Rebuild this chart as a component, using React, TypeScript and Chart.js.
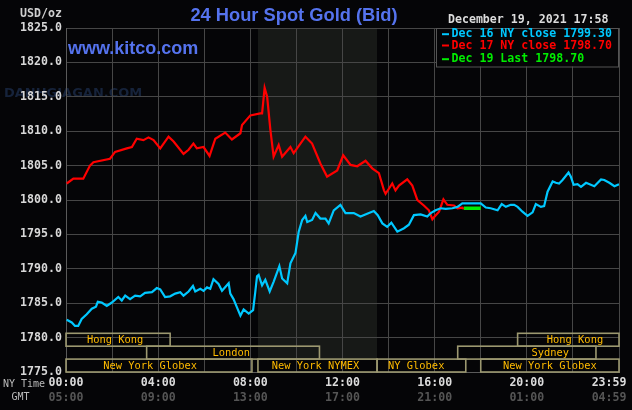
import React, { useEffect, useRef } from "react";
import { Chart, registerables } from "chart.js";

Chart.register(...registerables);

// ---- data (hours after 00:00 NY time, price USD/oz) ----
const redHours = [0.03, 0.32, 0.75, 1.04, 1.19, 1.91, 2.13, 2.64, 2.86, 3.07, 3.36, 3.58, 3.8, 4.09, 4.45, 4.67, 5.1, 5.32, 5.53, 5.68, 5.97, 6.23, 6.48, 6.91, 7.2, 7.57, 7.64, 8.0, 8.43, 8.51, 8.62, 8.73, 8.87, 9.01, 9.23, 9.38, 9.74, 9.88, 10.39, 10.68, 11.04, 11.33, 11.77, 12.03, 12.35, 12.64, 13.0, 13.29, 13.58, 13.8, 13.87, 14.16, 14.3, 14.45, 14.81, 15.03, 15.25, 15.53, 15.75, 15.9, 15.97, 16.19, 16.38, 16.55, 16.84, 16.99, 17.2, 17.26];
const redPrices = [1802.4, 1803.1, 1803.1, 1805.0, 1805.5, 1806.0, 1807.0, 1807.5, 1807.7, 1808.9, 1808.7, 1809.1, 1808.7, 1807.5, 1809.2, 1808.5, 1806.7, 1807.3, 1808.2, 1807.5, 1807.7, 1806.4, 1808.9, 1809.8, 1808.8, 1809.7, 1810.9, 1812.3, 1812.6, 1812.6, 1816.3, 1815.0, 1810.2, 1806.3, 1808.0, 1806.3, 1807.7, 1806.8, 1809.2, 1808.2, 1805.3, 1803.4, 1804.3, 1806.5, 1805.1, 1804.9, 1805.7, 1804.6, 1803.9, 1801.4, 1800.9, 1802.4, 1801.4, 1802.1, 1803.0, 1802.1, 1800.0, 1799.2, 1798.5, 1797.2, 1797.5, 1798.3, 1800.1, 1799.3, 1799.2, 1798.8, 1798.9, 1798.7];

const cyanHours = [0.03, 0.25, 0.39, 0.53, 0.68, 0.9, 1.12, 1.3, 1.38, 1.55, 1.77, 1.99, 2.27, 2.42, 2.57, 2.78, 3.0, 3.22, 3.43, 3.73, 3.94, 4.09, 4.3, 4.52, 4.74, 4.96, 5.1, 5.32, 5.51, 5.61, 5.83, 5.97, 6.12, 6.26, 6.4, 6.62, 6.77, 7.06, 7.13, 7.27, 7.42, 7.57, 7.71, 7.93, 8.12, 8.22, 8.29, 8.36, 8.51, 8.65, 8.84, 9.01, 9.26, 9.38, 9.6, 9.74, 9.96, 10.1, 10.25, 10.39, 10.47, 10.68, 10.83, 11.04, 11.26, 11.4, 11.62, 11.91, 12.13, 12.49, 12.78, 13.07, 13.36, 13.53, 13.73, 13.94, 14.12, 14.38, 14.67, 14.88, 15.1, 15.39, 15.68, 15.83, 16.04, 16.26, 16.48, 16.77, 16.99, 17.2, 18.0, 18.22, 18.43, 18.73, 18.91, 19.09, 19.3, 19.45, 19.6, 19.81, 20.03, 20.25, 20.39, 20.61, 20.75, 20.9, 21.12, 21.26, 21.4, 21.55, 21.81, 21.91, 22.03, 22.2, 22.35, 22.57, 22.93, 23.22, 23.36, 23.58, 23.8, 24.0];
const cyanPrices = [1782.6, 1782.2, 1781.7, 1781.7, 1782.7, 1783.4, 1784.2, 1784.5, 1785.2, 1785.1, 1784.6, 1785.1, 1785.9, 1785.4, 1786.1, 1785.6, 1786.1, 1786.0, 1786.5, 1786.6, 1787.2, 1787.0, 1785.9, 1786.0, 1786.4, 1786.6, 1786.1, 1786.7, 1787.5, 1786.7, 1787.1, 1786.8, 1787.3, 1787.1, 1788.5, 1787.8, 1786.8, 1787.9, 1786.4, 1785.6, 1784.4, 1783.2, 1784.1, 1783.5, 1784.0, 1786.8, 1788.9, 1789.1, 1787.6, 1788.4, 1786.7, 1788.1, 1790.4, 1788.6, 1787.9, 1790.8, 1792.3, 1795.4, 1797.1, 1797.7, 1796.8, 1797.1, 1798.1, 1797.3, 1797.3, 1796.6, 1798.5, 1799.3, 1798.1, 1798.1, 1797.6, 1798.0, 1798.4, 1797.8, 1796.6, 1796.1, 1796.7, 1795.4, 1795.9, 1796.4, 1797.8, 1797.9, 1797.6, 1798.1, 1798.5, 1798.8, 1798.7, 1798.8, 1799.0, 1799.5, 1799.5, 1798.9, 1798.8, 1798.5, 1799.4, 1799.0, 1799.3, 1799.3, 1799.0, 1798.3, 1797.7, 1798.2, 1799.4, 1799.0, 1799.1, 1801.2, 1802.7, 1802.5, 1802.4, 1802.9, 1804.0, 1803.4, 1802.2, 1802.3, 1801.9, 1802.5, 1802.0, 1803.0, 1802.9, 1802.5, 1802.0, 1802.3];

const greenHours = [17.26, 18.0];
const greenPrices = [1798.8, 1798.8];

const legendLabels = ["Dec 16 NY close 1799.30", "Dec 17 NY close 1798.70", "Dec 19 Last 1798.70"];
const seriesColors = ["#00c8ff", "#ff0000", "#00ee00"];

const gridHours = [0, 2, 4, 6, 8, 10, 12, 14, 16, 18, 20, 22, 24];
const xLabelHours = [0, 4, 8, 12, 16, 20, 23.57];
const nyTickLabels = ["00:00", "04:00", "08:00", "12:00", "16:00", "20:00", "23:59"];
const gmtTickLabels = ["05:00", "09:00", "13:00", "17:00", "21:00", "01:00", "04:59"];

const sessionNames = ["Hong Kong", "Hong Kong", "London", "Sydney", "New York Globex", "New York NYMEX", "NY Globex", "New York Globex"];
const sessionRows = [0, 0, 1, 1, 2, 2, 2, 2];
const sessionStart = [0, 19.6, 3.5, 17.0, 0, 8.33, 13.5, 18.0];
const sessionEnd = [4.52, 24, 11.0, 23.0, 8.07, 13.5, 17.35, 24];
const sessionLabelAt = [2.13, 22.09, 7.17, 21.02, 3.65, 10.83, 15.2, 21.0];

const comexStart = 8.33;
const comexEnd = 13.5;

const titleText = "24 Hour Spot Gold (Bid)";
const dateText = "December 19, 2021 17:58";

const MONO = '"DejaVu Sans Mono", monospace';
const GRID = "#464646";

const toPoints = (xs: number[], ys: number[]) => xs.map((x, i) => ({ x, y: ys[i] }));
const allTickHours = Array.from(new Set([...gridHours, ...xLabelHours])).sort((a, b) => a - b);

const decorPlugin = {
  id: "kitcoDecor",
  beforeDraw(chart: any) {
    const { ctx, chartArea, scales } = chart;
    const x = scales.x;
    ctx.save();
    ctx.fillStyle = "#050507";
    ctx.fillRect(0, 0, chart.width, chart.height);
    const rowH = 12.9;
    ctx.fillStyle = "#171917";
    const x0 = x.getPixelForValue(comexStart);
    const x1 = x.getPixelForValue(comexEnd);
    ctx.fillRect(x0, chartArea.top, x1 - x0, chartArea.bottom - rowH - chartArea.top);
    // watermark
    ctx.fillStyle = "#16233b";
    ctx.font = 'bold 13px "DejaVu Sans"';
    ctx.textBaseline = "middle";
    ctx.textAlign = "left";
    ctx.fillText("DANHGIAGAN.COM", 4, 94);
    ctx.restore();
  },
  afterDatasetsDraw(chart: any) {
    const { ctx, chartArea, scales } = chart;
    const x = scales.x;
    const bottom = chartArea.bottom;
    const rowH = 12.9;
    ctx.save();
    ctx.lineWidth = 1.6;
    ctx.strokeStyle = "#9c9870";
    for (let i = 0; i < sessionNames.length; i++) {
      const top = bottom - (3 - sessionRows[i]) * rowH;
      const a = x.getPixelForValue(sessionStart[i]);
      const b = x.getPixelForValue(sessionEnd[i]);
      ctx.strokeRect(a, top, b - a, rowH);
    }
    ctx.fillStyle = "#ffbb00";
    ctx.font = `10.4px ${MONO}`;
    ctx.textAlign = "center";
    ctx.textBaseline = "middle";
    for (let i = 0; i < sessionNames.length; i++) {
      const top = bottom - (3 - sessionRows[i]) * rowH;
      ctx.fillText(sessionNames[i], x.getPixelForValue(sessionLabelAt[i]), top + rowH / 2 + 0.5);
    }
    ctx.restore();
  },
  afterDraw(chart: any) {
    const { ctx, chartArea, scales } = chart;
    const x = scales.x;
    ctx.save();
    ctx.textBaseline = "middle";
    // GMT labels
    ctx.font = `bold 11.6px ${MONO}`;
    ctx.fillStyle = "#555555";
    ctx.textAlign = "center";
    xLabelHours.forEach((h, i) => {
      ctx.fillText(gmtTickLabels[i], x.getPixelForValue(h), 397.5);
    });
    // NY Time / GMT
    ctx.font = `10px ${MONO}`;
    ctx.fillStyle = "#bbbbbb";
    ctx.textAlign = "left";
    ctx.fillText("NY Time", 3, 384.5);
    ctx.textAlign = "center";
    ctx.fillText("GMT", 20.5, 397.5);
    // USD/oz
    ctx.font = `bold 11.6px ${MONO}`;
    ctx.fillStyle = "#cfcfcf";
    ctx.textAlign = "right";
    ctx.fillText("USD/oz", 62, 13.5);
    // title
    ctx.font = 'bold 18.3px "Liberation Sans", Arial, sans-serif';
    ctx.fillStyle = "#5573ee";
    ctx.textAlign = "center";
    ctx.fillText(titleText, 294, 15.5);
    // website
    ctx.font = 'bold 18px "Liberation Sans", Arial, sans-serif';
    ctx.textAlign = "left";
    ctx.fillText("www.kitco.com", 68, 49);
    // date
    ctx.font = `bold 11.6px ${MONO}`;
    ctx.fillStyle = "#dcdcdc";
    ctx.textAlign = "right";
    ctx.fillText(dateText, 608.5, 20);
    // legend box
    const lx = 436, ly = chartArea.top, lw = chartArea.right - 436, lh = 38.5;
    ctx.fillStyle = "#050507";
    ctx.fillRect(lx, ly, lw, lh);
    ctx.strokeStyle = "#555555";
    ctx.lineWidth = 1;
    ctx.strokeRect(lx + 0.5, ly + 0.5, lw - 1, lh);
    const rowY = [34.2, 45.5, 59.2];
    ctx.textAlign = "left";
    legendLabels.forEach((lab, i) => {
      ctx.fillStyle = seriesColors[i];
      ctx.fillRect(442, rowY[i] - 1, 7, 2);
      ctx.fillText(lab, 451.5, rowY[i]);
    });
    ctx.restore();
  },
};

export default function App() {
  const ref = useRef<HTMLCanvasElement | null>(null);
  useEffect(() => {
    if (!ref.current) return;
    const chart = new Chart(ref.current, {
      type: "line",
      data: {
        datasets: [
          {
            label: legendLabels[0],
            data: toPoints(cyanHours, cyanPrices),
            borderColor: seriesColors[0],
            borderWidth: 2.2,
            pointRadius: 0,
            tension: 0,
          },
          {
            label: legendLabels[1],
            data: toPoints(redHours, redPrices),
            borderColor: seriesColors[1],
            borderWidth: 2.2,
            pointRadius: 0,
            tension: 0,
          },
          {
            label: legendLabels[2],
            data: toPoints(greenHours, greenPrices),
            borderColor: seriesColors[2],
            borderWidth: 3.5,
            pointRadius: 0,
            tension: 0,
          },
        ],
      },
      options: {
        responsive: false,
        animation: false,
        events: [],
        layout: { padding: { top: 28, right: 13, left: 0, bottom: 0 } },
        plugins: { legend: { display: false }, title: { display: false }, tooltip: { enabled: false } },
        scales: {
          x: {
            type: "linear",
            min: 0,
            max: 24,
            afterBuildTicks(scale: any) {
              scale.ticks = allTickHours.map((v) => ({ value: v }));
            },
            afterFit(scale: any) {
              scale.height = 38;
              scale.paddingLeft = 0;
              scale.paddingRight = 0;
            },
            ticks: {
              autoSkip: false,
              maxRotation: 0,
              padding: 4,
              color: "#dcdcdc",
              font: { family: MONO, size: 11.6, weight: "bold" },
              callback: (v: any) => {
                const i = xLabelHours.indexOf(Number(v));
                return i >= 0 ? nyTickLabels[i] : "";
              },
            },
            grid: {
              color: (c: any) => (c.tick && gridHours.includes(c.tick.value) ? GRID : "rgba(0,0,0,0)"),
              lineWidth: 1,
              drawTicks: false,
            },
            border: { color: "#5a5a5a" },
          },
          y: {
            min: 1775,
            max: 1825,
            afterFit(scale: any) {
              scale.width = 66;
              scale.paddingTop = 0;
              scale.paddingBottom = 0;
            },
            ticks: {
              stepSize: 5,
              padding: 4,
              color: "#d8d8d8",
              font: { family: MONO, size: 11.6, weight: "bold" },
              callback: (v: any) => Number(v).toFixed(1),
            },
            grid: { color: GRID, lineWidth: 1, drawTicks: false },
            border: { color: "#5a5a5a" },
          },
        },
      },
      plugins: [decorPlugin],
    });
    return () => chart.destroy();
  }, []);
  return (
    <div style={{ position: "fixed", left: 0, top: 0, width: 632, height: 410, background: "#050507" }}>
      <canvas ref={ref} width={632} height={410} style={{ display: "block", width: 632, height: 410 }} />
    </div>
  );
}
